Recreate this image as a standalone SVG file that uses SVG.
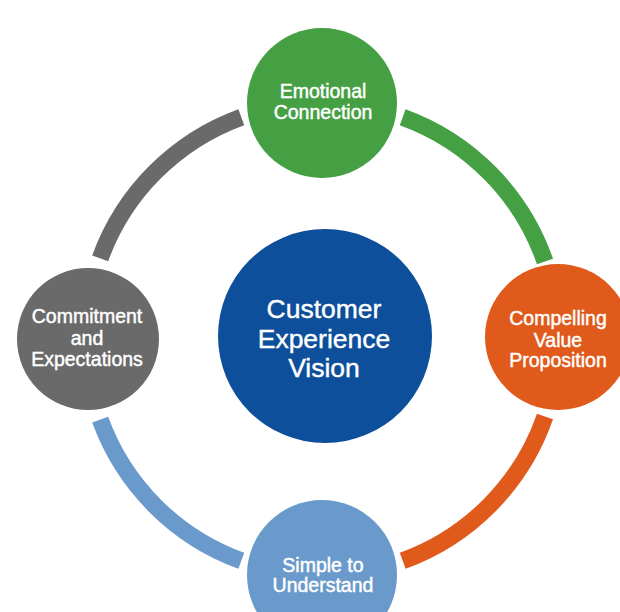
<svg xmlns="http://www.w3.org/2000/svg" width="620" height="612" viewBox="0 0 620 612">
  <style>
    .arc { fill: none; stroke-width: 17; stroke-linecap: butt; }
    .lbl { font-family: "Liberation Sans", Arial, sans-serif; font-size: 19.5px; fill: #ffffff; stroke: #ffffff; stroke-width: 0.45px; text-anchor: middle; }
    .big { font-family: "Liberation Sans", Arial, sans-serif; font-size: 26.5px; fill: #ffffff; stroke: #ffffff; stroke-width: 0.4px; text-anchor: middle; }
  </style>
  <rect width="620" height="612" fill="#ffffff"/>
  <g id="connectors">
    <path class="arc" stroke="#6a6a6a" d="M 100.2 258.3 A 236 236 0 0 1 241.3 117.2"/>
    <path class="arc" stroke="#44a043" d="M 402.7 117.2 A 236 236 0 0 1 545.0 261.5"/>
    <path class="arc" stroke="#e05a1c" d="M 545.0 416.5 A 236 236 0 0 1 402.7 560.8"/>
    <path class="arc" stroke="#6a9acb" d="M 241.3 560.8 A 236 236 0 0 1 100.2 419.7"/>
  </g>
  <g id="center">
    <circle cx="325" cy="336" r="107" fill="#0d4f9a"/>
    <text class="big" x="324" y="318">Customer</text>
    <text class="big" x="324" y="348">Experience</text>
    <text class="big" x="324" y="377">Vision</text>
  </g>
  <g id="emotional">
    <circle cx="322" cy="103" r="75" fill="#44a043"/>
    <text class="lbl" x="323" y="98">Emotional</text>
    <text class="lbl" x="323" y="119">Connection</text>
  </g>
  <g id="compelling">
    <circle cx="558" cy="337" r="73" fill="#e05a1c"/>
    <text class="lbl" x="558" y="325">Compelling</text>
    <text class="lbl" x="558" y="347">Value</text>
    <text class="lbl" x="558" y="367">Proposition</text>
  </g>
  <g id="simple">
    <circle cx="322" cy="575" r="75" fill="#6a9acb"/>
    <text class="lbl" x="323" y="572">Simple to</text>
    <text class="lbl" x="323" y="592">Understand</text>
  </g>
  <g id="commitment">
    <circle cx="88" cy="339" r="71" fill="#6a6a6a"/>
    <text class="lbl" x="87" y="323">Commitment</text>
    <text class="lbl" x="87" y="345">and</text>
    <text class="lbl" x="87" y="366">Expectations</text>
  </g>
</svg>
